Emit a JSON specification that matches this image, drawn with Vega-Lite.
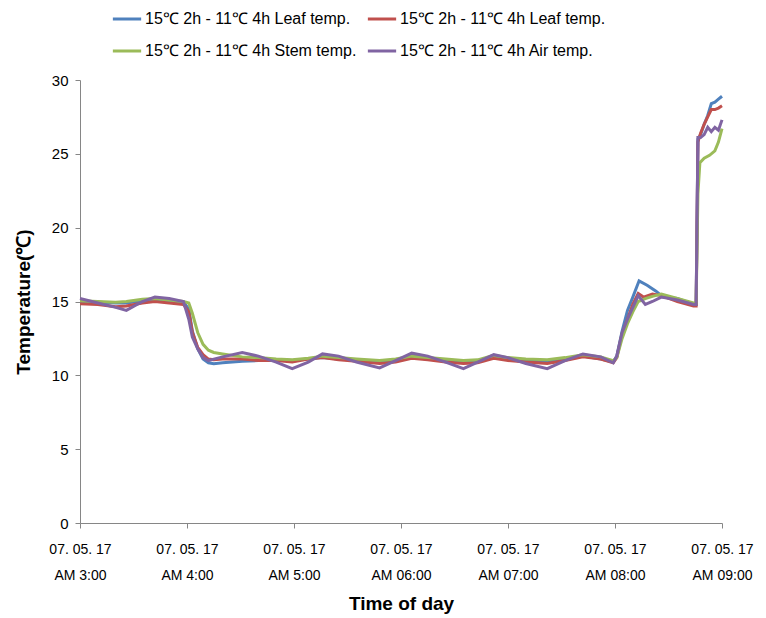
{
  "$schema": "https://vega.github.io/schema/vega-lite/v6.json",
  "width": 642,
  "height": 443,
  "autosize": {"type": "none"},
  "padding": {"left": 80, "top": 80, "right": 44, "bottom": 95},
  "background": "white",
  "config": {
    "view": {"stroke": null},
    "font": "Liberation Sans, sans-serif"
  },
  "data": {"values": [
    {"s":"A","t":0,"v":15.0},{"s":"A","t":10,"v":14.95},{"s":"A","t":20,"v":14.9},{"s":"A","t":26,"v":14.9},{"s":"A","t":35,"v":15.05},{"s":"A","t":42,"v":15.1},{"s":"A","t":50,"v":15.0},{"s":"A","t":58,"v":14.95},{"s":"A","t":61,"v":14.5},{"s":"A","t":63,"v":13.0},{"s":"A","t":66,"v":11.8},{"s":"A","t":69,"v":11.1},{"s":"A","t":72,"v":10.85},{"s":"A","t":75,"v":10.78},{"s":"A","t":80,"v":10.85},{"s":"A","t":91,"v":10.95},{"s":"A","t":100,"v":11.0},{"s":"A","t":110,"v":11.05},{"s":"A","t":119,"v":11.0},{"s":"A","t":128,"v":11.1},{"s":"A","t":136,"v":11.2},{"s":"A","t":145,"v":11.1},{"s":"A","t":155,"v":11.0},{"s":"A","t":168,"v":10.95},{"s":"A","t":177,"v":11.0},{"s":"A","t":186,"v":11.2},{"s":"A","t":195,"v":11.1},{"s":"A","t":205,"v":11.0},{"s":"A","t":215,"v":10.9},{"s":"A","t":223,"v":11.0},{"s":"A","t":232,"v":11.25},{"s":"A","t":240,"v":11.1},{"s":"A","t":250,"v":11.0},{"s":"A","t":262,"v":10.95},{"s":"A","t":272,"v":11.1},{"s":"A","t":282,"v":11.3},{"s":"A","t":292,"v":11.1},{"s":"A","t":299,"v":10.9},{"s":"A","t":301,"v":11.3},{"s":"A","t":304,"v":13.0},{"s":"A","t":307,"v":14.4},{"s":"A","t":310,"v":15.3},{"s":"A","t":313.5,"v":16.4},{"s":"A","t":318,"v":16.1},{"s":"A","t":323,"v":15.7},{"s":"A","t":327,"v":15.3},{"s":"A","t":335,"v":15.2},{"s":"A","t":344,"v":14.8},{"s":"A","t":345.5,"v":14.8},{"s":"A","t":346.5,"v":26.0},{"s":"A","t":348,"v":26.3},{"s":"A","t":350,"v":27.0},{"s":"A","t":352,"v":27.6},{"s":"A","t":354,"v":28.4},{"s":"A","t":356,"v":28.5},{"s":"A","t":358,"v":28.7},{"s":"A","t":360,"v":28.9},

    {"s":"B","t":0,"v":14.85},{"s":"B","t":10,"v":14.8},{"s":"B","t":20,"v":14.65},{"s":"B","t":26,"v":14.7},{"s":"B","t":35,"v":14.9},{"s":"B","t":42,"v":15.0},{"s":"B","t":50,"v":14.9},{"s":"B","t":58,"v":14.8},{"s":"B","t":61,"v":14.3},{"s":"B","t":63,"v":12.9},{"s":"B","t":66,"v":11.9},{"s":"B","t":69,"v":11.4},{"s":"B","t":72,"v":11.1},{"s":"B","t":75,"v":11.05},{"s":"B","t":80,"v":11.1},{"s":"B","t":91,"v":11.1},{"s":"B","t":100,"v":11.0},{"s":"B","t":110,"v":11.0},{"s":"B","t":119,"v":10.9},{"s":"B","t":128,"v":11.1},{"s":"B","t":136,"v":11.2},{"s":"B","t":145,"v":11.05},{"s":"B","t":155,"v":10.95},{"s":"B","t":168,"v":10.8},{"s":"B","t":177,"v":10.9},{"s":"B","t":186,"v":11.15},{"s":"B","t":195,"v":11.05},{"s":"B","t":205,"v":10.9},{"s":"B","t":215,"v":10.8},{"s":"B","t":223,"v":10.85},{"s":"B","t":232,"v":11.15},{"s":"B","t":240,"v":11.0},{"s":"B","t":250,"v":10.9},{"s":"B","t":262,"v":10.8},{"s":"B","t":272,"v":11.0},{"s":"B","t":282,"v":11.25},{"s":"B","t":292,"v":11.1},{"s":"B","t":299,"v":10.85},{"s":"B","t":301,"v":11.2},{"s":"B","t":304,"v":12.8},{"s":"B","t":307,"v":13.8},{"s":"B","t":310,"v":14.8},{"s":"B","t":313,"v":15.55},{"s":"B","t":316,"v":15.3},{"s":"B","t":321,"v":15.5},{"s":"B","t":326,"v":15.4},{"s":"B","t":335,"v":15.0},{"s":"B","t":344,"v":14.7},{"s":"B","t":345.5,"v":14.7},{"s":"B","t":346.5,"v":25.8},{"s":"B","t":348,"v":26.4},{"s":"B","t":350,"v":27.0},{"s":"B","t":352,"v":27.5},{"s":"B","t":354,"v":28.0},{"s":"B","t":356,"v":28.0},{"s":"B","t":358,"v":28.1},{"s":"B","t":360,"v":28.25},

    {"s":"C","t":0,"v":15.05},{"s":"C","t":10,"v":15.0},{"s":"C","t":20,"v":14.95},{"s":"C","t":26,"v":15.0},{"s":"C","t":35,"v":15.15},{"s":"C","t":42,"v":15.2},{"s":"C","t":50,"v":15.1},{"s":"C","t":58,"v":15.0},{"s":"C","t":61,"v":14.9},{"s":"C","t":63,"v":14.2},{"s":"C","t":66,"v":12.9},{"s":"C","t":69,"v":12.1},{"s":"C","t":72,"v":11.7},{"s":"C","t":75,"v":11.55},{"s":"C","t":80,"v":11.45},{"s":"C","t":91,"v":11.25},{"s":"C","t":100,"v":11.2},{"s":"C","t":110,"v":11.1},{"s":"C","t":119,"v":11.05},{"s":"C","t":128,"v":11.15},{"s":"C","t":136,"v":11.3},{"s":"C","t":145,"v":11.2},{"s":"C","t":155,"v":11.1},{"s":"C","t":168,"v":11.0},{"s":"C","t":177,"v":11.1},{"s":"C","t":186,"v":11.3},{"s":"C","t":195,"v":11.2},{"s":"C","t":205,"v":11.1},{"s":"C","t":215,"v":11.0},{"s":"C","t":223,"v":11.05},{"s":"C","t":232,"v":11.35},{"s":"C","t":240,"v":11.2},{"s":"C","t":250,"v":11.1},{"s":"C","t":262,"v":11.05},{"s":"C","t":272,"v":11.2},{"s":"C","t":282,"v":11.4},{"s":"C","t":292,"v":11.25},{"s":"C","t":299,"v":11.0},{"s":"C","t":301,"v":11.2},{"s":"C","t":304,"v":12.5},{"s":"C","t":307,"v":13.5},{"s":"C","t":310,"v":14.3},{"s":"C","t":313,"v":15.0},{"s":"C","t":317,"v":15.2},{"s":"C","t":321,"v":15.35},{"s":"C","t":326,"v":15.5},{"s":"C","t":335,"v":15.2},{"s":"C","t":344,"v":14.9},{"s":"C","t":345.5,"v":14.9},{"s":"C","t":346.5,"v":22.3},{"s":"C","t":347.6,"v":24.4},{"s":"C","t":350,"v":24.7},{"s":"C","t":353,"v":24.9},{"s":"C","t":356,"v":25.2},{"s":"C","t":358,"v":25.8},{"s":"C","t":360,"v":26.7},

    {"s":"D","t":0,"v":15.2},{"s":"D","t":10,"v":14.9},{"s":"D","t":20,"v":14.6},{"s":"D","t":26,"v":14.4},{"s":"D","t":35,"v":15.0},{"s":"D","t":42,"v":15.3},{"s":"D","t":50,"v":15.2},{"s":"D","t":58,"v":15.0},{"s":"D","t":61,"v":13.8},{"s":"D","t":63,"v":12.6},{"s":"D","t":66,"v":11.8},{"s":"D","t":69,"v":11.2},{"s":"D","t":72,"v":11.0},{"s":"D","t":75,"v":11.1},{"s":"D","t":80,"v":11.25},{"s":"D","t":91,"v":11.55},{"s":"D","t":100,"v":11.3},{"s":"D","t":110,"v":10.9},{"s":"D","t":119,"v":10.45},{"s":"D","t":128,"v":10.9},{"s":"D","t":136,"v":11.45},{"s":"D","t":145,"v":11.3},{"s":"D","t":155,"v":10.9},{"s":"D","t":168,"v":10.5},{"s":"D","t":177,"v":11.0},{"s":"D","t":186,"v":11.5},{"s":"D","t":195,"v":11.3},{"s":"D","t":205,"v":10.9},{"s":"D","t":215,"v":10.45},{"s":"D","t":223,"v":10.9},{"s":"D","t":232,"v":11.4},{"s":"D","t":240,"v":11.2},{"s":"D","t":250,"v":10.8},{"s":"D","t":262,"v":10.45},{"s":"D","t":272,"v":11.0},{"s":"D","t":282,"v":11.45},{"s":"D","t":292,"v":11.25},{"s":"D","t":299,"v":10.85},{"s":"D","t":301,"v":11.3},{"s":"D","t":304,"v":12.9},{"s":"D","t":307,"v":13.8},{"s":"D","t":310,"v":14.6},{"s":"D","t":313,"v":15.4},{"s":"D","t":317,"v":14.8},{"s":"D","t":321,"v":15.0},{"s":"D","t":326,"v":15.3},{"s":"D","t":335,"v":15.1},{"s":"D","t":344,"v":14.8},{"s":"D","t":345.5,"v":14.8},{"s":"D","t":346.5,"v":26.1},{"s":"D","t":348,"v":26.1},{"s":"D","t":350,"v":26.3},{"s":"D","t":352,"v":26.8},{"s":"D","t":354,"v":26.5},{"s":"D","t":356,"v":26.8},{"s":"D","t":358,"v":26.6},{"s":"D","t":360,"v":27.3}
  ]},
  "mark": {"type": "line", "strokeWidth": 3, "interpolate": "linear"},
  "encoding": {
    "x": {
      "field": "t", "type": "quantitative",
      "scale": {"domain": [0, 360], "nice": false, "zero": false},
      "axis": {
        "values": [0, 60, 120, 180, 240, 300, 360],
        "labelExpr": "['07. 05. 17', ['AM 3:00','AM 4:00','AM 5:00','AM 06:00','AM 07:00','AM 08:00','AM 09:00'][round(datum.value/60)]]",
        "labelFontSize": 14, "labelColor": "#000000", "labelPadding": 14,
        "labelLineHeight": 26, "labelFlush": false, "labelOverlap": false,
        "grid": false, "domainColor": "#868686", "tickColor": "#868686", "tickSize": 5,
        "title": "Time of day", "titleFontSize": 19, "titleFontWeight": "bold", "titleColor": "#000000",
        "titlePadding": 12
      }
    },
    "y": {
      "field": "v", "type": "quantitative",
      "scale": {"domain": [0, 30], "nice": false},
      "axis": {
        "values": [0, 5, 10, 15, 20, 25, 30],
        "labelFontSize": 15, "labelColor": "#000000", "labelPadding": 7,
        "grid": false, "domainColor": "#868686", "tickColor": "#868686", "tickSize": 5,
        "title": "Temperature(℃)", "titleFontSize": 19, "titleFontWeight": "bold", "titleColor": "#000000",
        "titlePadding": 18
      }
    },
    "color": {
      "field": "s", "type": "nominal",
      "scale": {"domain": ["A", "B", "C", "D"], "range": ["#4F81BD", "#C0504D", "#9BBB59", "#8064A2"]},
      "legend": {
        "orient": "none", "legendX": 31, "legendY": -77,
        "columns": 2, "direction": "horizontal",
        "title": null,
        "labelExpr": "datum.value == 'A' ? '15℃ 2h - 11℃ 4h Leaf temp.' : datum.value == 'B' ? '15℃ 2h - 11℃ 4h Leaf temp.' : datum.value == 'C' ? '15℃ 2h - 11℃ 4h  Stem temp.' : '15℃ 2h - 11℃ 4h Air temp.'",
        "labelFontSize": 16, "labelColor": "#000000", "labelLimit": 300,
        "symbolType": "stroke", "symbolSize": 800, "symbolStrokeWidth": 3,
        "rowPadding": 8, "columnPadding": 0, "labelOffset": 2
      }
    },
    "order": {"field": "t", "type": "quantitative"}
  }
}
